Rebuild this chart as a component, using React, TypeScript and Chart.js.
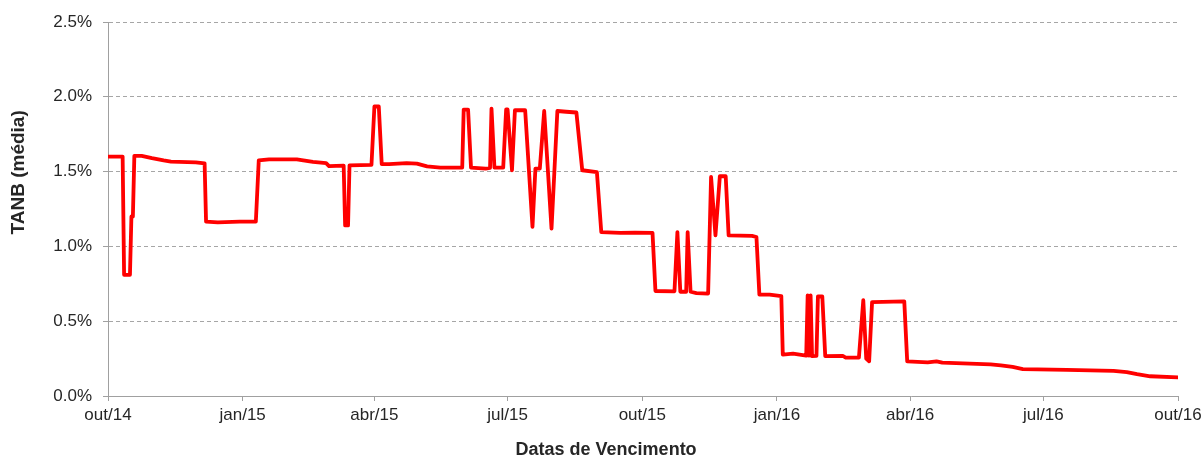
import React, { useEffect, useRef } from 'react';
import { Chart, registerables } from 'chart.js';

Chart.register(...registerables);

// Days counted from 1 Oct 2014 (out/14)
const dayFromStart = [
  0, 10, 11, 15, 16, 17, 18, 23, 30, 38, 43, 60, 66, 67, 75, 90, 101, 103, 110, 129,
  140, 149, 151, 161, 162, 164, 165, 180, 182, 185, 187, 192, 204, 211, 218, 227, 242, 243, 246, 248,
  258, 261, 262, 264, 270, 272, 273, 276, 278, 285, 290, 292, 295, 298, 303, 305, 307, 313, 320, 324,
  334, 337, 350, 360, 372, 374, 387, 389, 391, 395, 396, 398, 402, 410, 412, 415, 418, 422, 424, 440,
  443, 445, 452, 460, 461, 468, 477, 478, 479, 480, 481, 484, 485, 488, 490, 502, 504, 513, 516, 518,
  520, 522, 544, 546, 560, 566, 570, 584, 603, 610, 618, 625, 655, 687, 696, 703, 712, 731,
];

// TANB (média), in %
const tanb = [
  1.6, 1.6, 0.81, 0.81, 1.2, 1.2, 1.605, 1.605, 1.59, 1.575, 1.567, 1.562, 1.555, 1.165, 1.16, 1.165, 1.165, 1.575, 1.582, 1.582,
  1.565, 1.557, 1.537, 1.54, 1.14, 1.14, 1.542, 1.545, 1.935, 1.935, 1.55, 1.55, 1.557, 1.553, 1.535, 1.527, 1.527, 1.914, 1.914, 1.527,
  1.52, 1.525, 1.921, 1.527, 1.527, 1.915, 1.915, 1.509, 1.91, 1.91, 1.13, 1.52, 1.52, 1.905, 1.119, 1.509, 1.905, 1.9, 1.895, 1.509,
  1.497, 1.096, 1.09, 1.092, 1.09, 0.702, 0.7, 1.095, 0.697, 0.697, 1.095, 0.697, 0.688, 0.685, 1.464, 1.074, 1.469, 1.469, 1.074, 1.07,
  1.063, 0.678, 0.678, 0.668, 0.277, 0.283, 0.27, 0.673, 0.27, 0.673, 0.266, 0.268, 0.665, 0.665, 0.267, 0.268, 0.257, 0.257, 0.64, 0.25,
  0.232, 0.628, 0.632, 0.232, 0.225, 0.232, 0.223, 0.218, 0.212, 0.205, 0.195, 0.18, 0.175, 0.168, 0.16, 0.146, 0.132, 0.125,
];

const tickDays = [0, 92, 182, 273, 365, 457, 548, 639, 731];
const tickLabels = ['out/14', 'jan/15', 'abr/15', 'jul/15', 'out/15', 'jan/16', 'abr/16', 'jul/16', 'out/16'];
const yTitle = 'TANB (média)';
const xTitle = 'Datas de Vencimento';

const FONT = '"Liberation Sans", Arial, Helvetica, sans-serif';
const TEXT = '#262626';
const AXIS = '#a0a0a0';

const titlePlugin = {
  id: 'axisTitles',
  afterDraw(chart: any) {
    const { ctx, chartArea } = chart;
    const h = chartArea.bottom - chartArea.top;
    const w = chartArea.right - chartArea.left;
    ctx.save();
    ctx.fillStyle = TEXT;
    ctx.textAlign = 'center';
    ctx.textBaseline = 'alphabetic';
    ctx.save();
    ctx.font = `bold 19px ${FONT}`;
    ctx.translate(23.5, chartArea.top + 0.402 * h);
    ctx.rotate(-Math.PI / 2);
    ctx.fillText(yTitle, 0, 0);
    ctx.restore();
    ctx.font = `bold 18px ${FONT}`;
    ctx.fillText(xTitle, chartArea.left + 0.4655 * w, chart.height - 1);
    ctx.restore();
  },
};

export default function App() {
  const ref = useRef<HTMLCanvasElement | null>(null);
  useEffect(() => {
    if (!ref.current) return;
    const chart = new Chart(ref.current, {
      type: 'line',
      data: {
        datasets: [
          {
            label: yTitle,
            data: dayFromStart.map((d, i) => ({ x: d, y: tanb[i] })),
            borderColor: '#ff0000',
            backgroundColor: '#ff0000',
            borderWidth: 3.8,
            pointRadius: 0,
            tension: 0,
            borderJoinStyle: 'round',
            borderCapStyle: 'round',
            fill: false,
          },
        ],
      },
      options: {
        animation: false,
        responsive: false,
        events: [],
        layout: { padding: { top: 22, right: 26, left: 0, bottom: 0 } },
        plugins: { legend: { display: false }, tooltip: { enabled: false } },
        scales: {
          x: {
            type: 'linear',
            min: 0,
            max: 731,
            afterBuildTicks: (scale: any) => {
              scale.ticks = tickDays.map((v) => ({ value: v }));
            },
            afterFit: (scale: any) => {
              scale.height = 60;
              scale.paddingLeft = 0;
              scale.paddingRight = 0;
            },
            ticks: {
              autoSkip: false,
              maxRotation: 0,
              minRotation: 0,
              padding: 4,
              color: TEXT,
              font: { family: FONT, size: 17 },
              callback: (value: any) => {
                const i = tickDays.indexOf(Number(value));
                return i >= 0 ? tickLabels[i] : '';
              },
            },
            grid: {
              display: true,
              drawOnChartArea: false,
              drawTicks: true,
              tickLength: 5,
              color: AXIS,
            },
            border: { display: true, color: AXIS, width: 1 },
          },
          y: {
            min: 0,
            max: 2.5,
            afterFit: (scale: any) => {
              scale.width = 108;
            },
            ticks: {
              stepSize: 0.5,
              padding: 11,
              color: TEXT,
              font: { family: FONT, size: 17 },
              callback: (value: any) => Number(value).toFixed(1) + '%',
            },
            grid: {
              display: true,
              drawTicks: true,
              tickLength: 5,
              color: '#a6a6a6',
              tickColor: AXIS,
            },
            border: { display: true, color: AXIS, width: 1, dash: [4, 3] },
          },
        },
      },
      plugins: [titlePlugin],
    } as any);
    return () => chart.destroy();
  }, []);
  return (
    <div style={{ position: 'fixed', left: 0, top: 0, width: 1204, height: 456, background: '#fff' }}>
      <canvas ref={ref} width={1204} height={456} style={{ display: 'block' }} />
    </div>
  );
}
